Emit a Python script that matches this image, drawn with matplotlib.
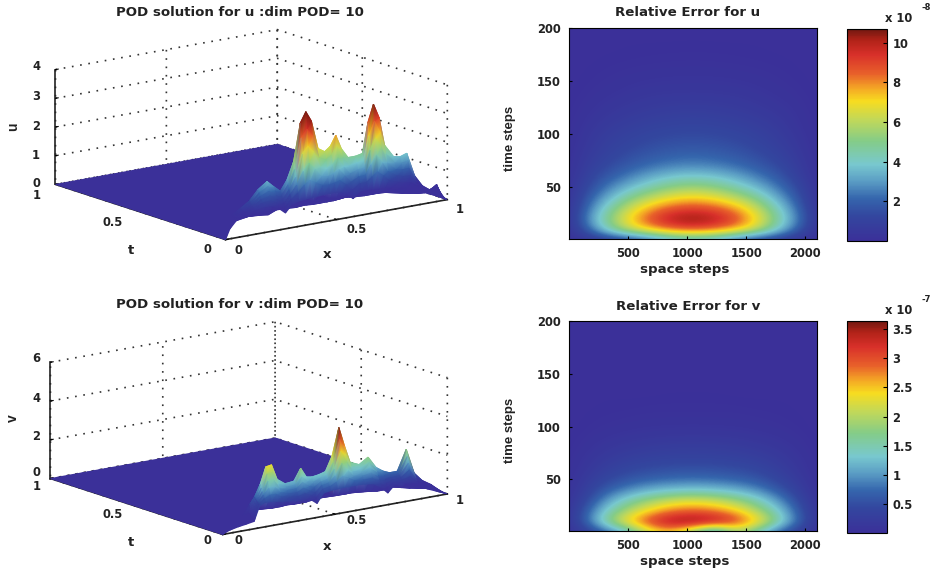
import matplotlib
matplotlib.use("Agg")
import numpy as np
import matplotlib.pyplot as plt
import matplotlib.tri as mtri
from matplotlib.colors import LinearSegmentedColormap, Normalize
from mpl_toolkits.mplot3d import proj3d

plt.rcParams['font.family'] = ['DejaVu Sans']
plt.rcParams['font.weight'] = 'bold'
plt.rcParams['font.size'] = 8.3
plt.rcParams['text.color'] = '#222222'
plt.rcParams['xtick.labelcolor'] = '#222222'
plt.rcParams['ytick.labelcolor'] = '#222222'

# surface rows
t_rows = [0.0, 0.006, 0.012, 0.018, 0.024, 0.03, 0.06, 0.1, 0.2, 1.0]

u_x = [0, .02, .05, .09, .13, .17, .21, .24, .27, .30, .33, .36, .385, .41, .44, .47, .495,
       .52, .545, .575, .61, .64, .665, .69, .715, .74, .78, .81, .84, .875, .91, .945, .975, 1]
u_z = [
    [0, .35, .6, .75, .85, .9, .88, .75, .55, .8, .88, .9, .92, .93, .95, .95, .95,
     .93, .85, .62, .85, .85, .83, .8, .78, .74, .68, .6, .54, .45, .35, .22, .1, 0],
    [0, .36, .62, .78, .9, 1.01, 1.04, .89, .69, .96, 1.14, 1.38, 1.51, 1.4, 1.26, 1.23, 1.26,
     1.31, 1.15, .9, 1.08, 1.09, 1.24, 1.38, 1.22, 1.03, .89, .82, .79, .55, .39, .25, .18, 0],
    [0, .37, .64, .81, .95, 1.12, 1.2, 1.03, .83, 1.12, 1.41, 1.86, 2.1, 1.88, 1.57, 1.51, 1.57,
     1.7, 1.45, 1.17, 1.31, 1.33, 1.66, 1.96, 1.67, 1.32, 1.11, 1.04, 1.04, .65, .43, .27, .26, 0],
    [0, .38, .66, .84, 1.0, 1.23, 1.35, 1.17, .97, 1.28, 1.67, 2.45, 2.68, 2.45, 1.88, 1.79, 1.88,
     2.08, 1.75, 1.45, 1.54, 1.57, 2.15, 2.54, 2.2, 1.62, 1.32, 1.26, 1.28, .75, .47, .3, .34, 0],
    [0, .39, .68, .87, 1.05, 1.34, 1.51, 1.31, 1.11, 1.44, 1.94, 3.0, 3.27, 3.0, 2.19, 2.07, 2.19,
     2.47, 2.05, 1.72, 1.77, 1.81, 2.65, 3.12, 2.7, 1.91, 1.54, 1.48, 1.53, .85, .51, .32, .42, 0],
    [0, .4, .7, .9, 1.1, 1.45, 1.67, 1.45, 1.25, 1.6, 2.2, 3.5, 3.86, 3.5, 2.5, 2.35, 2.5,
     2.85, 2.35, 2.0, 2.0, 2.05, 3.1, 3.7, 3.2, 2.2, 1.75, 1.7, 1.78, .95, .55, .35, .5, 0],
    [0, .25, .45, .55, .7, .9, 1.0, .9, .8, 1.0, 1.4, 2.0, 2.4, 2.0, 1.5, 1.4, 1.5,
     1.7, 1.4, 1.2, 1.2, 1.2, 1.7, 2.2, 1.8, 1.3, 1.1, 1.0, 1.1, .6, .35, .2, .3, 0],
    [0, .1, .2, .25, .3, .35, .4, .35, .3, .4, .5, .7, .9, .7, .6, .5, .6,
     .6, .5, .45, .45, .45, .6, .8, .7, .5, .4, .4, .4, .2, .15, .1, .1, 0],
    [0, .02, .04, .05, .06, .07, .08, .07, .06, .08, .1, .1, .12, .1, .1, .08, .1,
     .1, .08, .08, .08, .08, .1, .12, .1, .08, .06, .06, .06, .04, .03, .02, .02, 0],
    [0] * 34,
]

v_x = [0, .03, .07, .10, .14, .165, .19, .215, .24, .265, .3, .34, .37, .395, .42, .45,
       .48, .51, .54, .565, .59, .63, .67, .705, .735, .765, .8, .84, .875, .91, .95, 1]
v_z = [
    [0, .15, .25, .3, .38, 1.15, 1.25, 1.25, 1.2, 1.15, 1.1, 1.05, 1.02, .95, .72, 1.2,
     1.25, 1.28, 1.3, 1.3, 1.3, 1.28, 1.22, .95, .6, .95, 1.0, .85, .65, .45, .25, 0],
    [0, .16, .27, .33, .44, 1.22, 1.42, 1.55, 1.55, 1.36, 1.26, 1.23, 1.3, 1.17, .98, 1.37,
     1.43, 1.6, 1.86, 1.7, 1.52, 1.46, 1.48, 1.14, .81, 1.06, 1.1, 1.2, .77, .52, .3, 0],
    [0, .17, .29, .36, .51, 1.29, 1.59, 1.9, 1.9, 1.57, 1.42, 1.41, 1.57, 1.39, 1.23, 1.54,
     1.61, 1.92, 2.5, 2.1, 1.74, 1.65, 1.73, 1.33, 1.02, 1.17, 1.2, 1.53, .89, .59, .35, 0],
    [0, .18, .31, .39, .57, 1.36, 1.76, 2.25, 2.25, 1.78, 1.58, 1.59, 1.85, 1.61, 1.49, 1.71,
     1.79, 2.25, 3.1, 2.5, 1.96, 1.83, 1.99, 1.52, 1.23, 1.28, 1.3, 1.87, 1.01, .66, .4, 0],
    [0, .19, .33, .42, .64, 1.43, 1.93, 2.6, 2.6, 1.99, 1.74, 1.77, 2.12, 1.83, 1.74, 1.88,
     1.97, 2.56, 3.7, 2.9, 2.18, 2.02, 2.24, 1.71, 1.44, 1.39, 1.4, 2.2, 1.13, .73, .45, 0],
    [0, .2, .35, .45, .7, 1.5, 2.1, 2.95, 3.0, 2.2, 1.9, 1.95, 2.55, 2.05, 2.0, 2.05,
     2.15, 2.9, 4.3, 3.3, 2.4, 2.2, 2.5, 1.9, 1.65, 1.5, 1.5, 2.55, 1.25, .8, .5, 0],
    [0, .12, .2, .28, .45, 1.0, 1.4, 1.7, 1.8, 1.5, 1.3, 1.3, 1.6, 1.4, 1.3, 1.4,
     1.5, 1.7, 2.8, 2.0, 1.6, 1.5, 1.7, 1.3, 1.1, 1.0, 1.0, 1.5, .8, .5, .3, 0],
    [0, .05, .08, .1, .15, .3, .45, .55, .6, .5, .45, .45, .5, .45, .45, .45,
     .5, .55, .8, .6, .5, .5, .55, .45, .4, .35, .35, .5, .3, .2, .1, 0],
    [0, .01, .02, .02, .03, .05, .07, .08, .09, .08, .07, .07, .08, .07, .07, .07,
     .08, .08, .1, .08, .08, .08, .08, .07, .06, .05, .05, .07, .05, .03, .02, 0],
    [0] * 32,
]

# relative error tables, one row per 10 time steps
space_steps = [0, 175, 350, 525, 700, 875, 1050, 1225, 1400, 1575, 1750, 1925, 2100]
time_steps = list(range(0, 201, 10))

err_u = [
    [.1, .3, .7, 1.0, 1.8, 3.0, 3.2, 3.0, 1.8, 1.0, .7, .3, .1],
    [.2, 2.2, 4.6, 6.4, 7.6, 8.4, 8.7, 8.4, 7.7, 6.4, 4.3, 2.1, .2],
    [.25, 2.9, 5.3, 7.3, 9.0, 10.2, 10.7, 10.2, 9.1, 7.3, 5.0, 2.7, .3],
    [.25, 2.4, 4.6, 6.4, 7.8, 8.7, 9.0, 8.7, 7.9, 6.4, 4.4, 2.3, .25],
    [.2, 1.9, 3.5, 5.0, 6.1, 6.9, 7.2, 6.9, 6.1, 5.0, 3.4, 1.8, .2],
    [.2, 1.4, 2.6, 3.6, 4.5, 5.2, 5.5, 5.2, 4.5, 3.6, 2.5, 1.4, .2],
    [.15, 1.1, 1.9, 2.6, 3.3, 3.8, 4.0, 3.8, 3.3, 2.6, 1.9, 1.0, .15],
    [.12, .85, 1.4, 1.9, 2.3, 2.6, 2.7, 2.6, 2.3, 1.9, 1.4, .8, .12],
    [.1, .7, 1.1, 1.5, 1.8, 2.0, 2.1, 2.0, 1.8, 1.5, 1.1, .65, .1],
    [.08, .55, .95, 1.2, 1.45, 1.6, 1.65, 1.6, 1.45, 1.2, .9, .5, .08],
    [.07, .45, .8, 1.0, 1.2, 1.3, 1.35, 1.3, 1.2, 1.0, .75, .4, .07],
    [.05, .35, .6, .8, .95, 1.05, 1.1, 1.05, .95, .8, .6, .3, .05],
    [.04, .25, .45, .6, .72, .8, .85, .8, .72, .6, .45, .25, .04],
    [.03, .18, .32, .45, .55, .6, .62, .6, .55, .45, .32, .18, .03],
    [.02, .12, .22, .32, .4, .43, .45, .43, .4, .32, .22, .12, .02],
    [.01, .08, .15, .22, .27, .3, .3, .3, .27, .22, .15, .08, .01],
    [.01, .05, .1, .14, .17, .19, .2, .19, .17, .14, .1, .05, .01],
    [0, .03, .06, .08, .1, .11, .12, .11, .1, .08, .06, .03, 0],
    [0, .02, .03, .05, .06, .07, .07, .07, .06, .05, .03, .02, 0],
    [0, .01, .02, .03, .03, .03, .04, .03, .03, .03, .02, .01, 0],
    [0] * 13,
]

err_v = [
    [.05, .3, .7, 1.3, 2.2, 2.4, 1.6, .6, 1.8, 1.5, .7, .3, .05],
    [.08, .85, 1.85, 2.6, 3.2, 3.6, 3.7, 3.6, 3.2, 2.6, 1.75, .8, .08],
    [.07, .75, 1.5, 2.05, 2.5, 2.8, 2.9, 2.8, 2.55, 2.05, 1.45, .7, .07],
    [.06, .5, 1.1, 1.55, 1.9, 2.15, 2.25, 2.15, 1.9, 1.55, 1.05, .5, .06],
    [.04, .35, .7, .95, 1.15, 1.25, 1.3, 1.25, 1.15, .95, .65, .33, .04],
    [.03, .25, .45, .6, .7, .75, .78, .75, .7, .6, .42, .23, .03],
    [.02, .17, .32, .42, .48, .52, .53, .52, .48, .42, .3, .16, .02],
    [.02, .12, .22, .3, .34, .36, .37, .36, .34, .3, .22, .12, .02],
    [.01, .08, .15, .2, .24, .26, .27, .26, .24, .2, .15, .08, .01],
    [.01, .05, .09, .12, .15, .16, .17, .16, .15, .12, .09, .05, .01],
    [0, .03, .05, .07, .08, .09, .09, .09, .08, .07, .05, .03, 0],
    [0, .02, .03, .04, .05, .05, .05, .05, .05, .04, .03, .02, 0],
    [0, .01, .02, .02, .03, .03, .03, .03, .03, .02, .02, .01, 0],
    [0, .01, .01, .01, .01, .02, .02, .02, .01, .01, .01, .01, 0],
    [0] * 13, [0] * 13, [0] * 13, [0] * 13, [0] * 13, [0] * 13, [0] * 13,
]

# colours sampled from the colorbars
cmap_stops = [(0.0, '#3b3099'), (0.12, '#33479f'), (0.2, '#3566ad'), (0.28, '#5a9cc4'),
              (0.36, '#78c8cf'), (0.47, '#84cc88'), (0.57, '#c0d85a'), (0.66, '#f7dc20'),
              (0.72, '#f4a825'), (0.79, '#e8602a'), (0.88, '#d8302a'), (0.95, '#b02218'),
              (1.0, '#701810')]
faded_jet = LinearSegmentedColormap.from_list('faded_jet', cmap_stops)

W, H = 938, 573
fig = plt.figure(figsize=(W / 100, H / 100), dpi=100)


def px_axes(left, top, right, bottom, **kw):
    return fig.add_axes([left / W, 1 - bottom / H, (right - left) / W, (bottom - top) / H], **kw)


def px_text(x, y, s, **kw):
    kw.setdefault('ha', 'center')
    kw.setdefault('va', 'center')
    fig.text(x / W, 1 - y / H, s, **kw)


def setup_3d(cx, cy, zoom, zmax, zticks):
    size = 400
    ax = px_axes(cx - size / 2, cy - size / 2, cx + size / 2, cy + size / 2, projection='3d')
    ax.patch.set_visible(False)
    ax.set_proj_type('ortho')
    ax.view_init(elev=14, azim=-126.7)
    ax.set_box_aspect((277, 285, 118.5), zoom=zoom)
    ax.set_xlim(0, 1)
    ax.set_ylim(0, 1)
    ax.set_zlim(0, zmax)
    ax.set_xticks([0, 0.5, 1], ['', '', ''])
    ax.set_yticks([0, 0.5, 1], ['', '', ''])
    ax.set_zticks(zticks, ['' for z in zticks])
    for axis in (ax.xaxis, ax.yaxis, ax.zaxis):
        axis.set_pane_color((1, 1, 1, 0))
        axis.pane.set_edgecolor('none')
        axis.line.set_color('#222222')
        axis.line.set_linewidth(1.2)
        axis._axinfo['grid'].update(color='#333333', linestyle=(0, (1, 4)), linewidth=1.2)
        axis._axinfo['tick'].update(inward_factor=0.0, outward_factor=0.15)
    return ax


def label_3d(zpairs, t_ys, x_ys, zname, name_ys):
    # tick and axis names sit where the MATLAB figure has them
    for y, s in zpairs:
        px_text(36, y, s)
    for x, y, s in zip([37, 113, 207], t_ys, ['1', '0.5', '0']):
        px_text(x, y, s)
    for x, y, s in zip([238, 357, 460], x_ys, ['0', '0.5', '1']):
        px_text(x, y, s)
    px_text(13, name_ys[0], zname, family='Liberation Sans', fontsize=10, rotation=90)
    px_text(131, name_ys[1], 't', fontsize=9.5)
    px_text(327, name_ys[2], 'x', fontsize=9.5)


def draw_surface(overlay, ax, xs, ts, zs, vmin, vmax):
    # smooth shading like MATLAB's "shading interp": project the grid, then gouraud triangles
    X, T = np.meshgrid(xs, ts)
    Z = np.array(zs, dtype=float)
    px, py, _ = proj3d.proj_transform(X.ravel(), T.ravel(), Z.ravel(), ax.get_proj())
    disp = ax.transData.transform(np.column_stack([px, py]))
    nr, nc = Z.shape
    tris = []
    # far rows and far columns first so nearer triangles paint over them
    for i in range(nr - 2, -1, -1):
        for j in range(nc - 2, -1, -1):
            a = i * nc + j
            b = a + 1
            c = a + nc
            d = c + 1
            tris.append([a, b, d])
            tris.append([a, d, c])
    tri = mtri.Triangulation(disp[:, 0], disp[:, 1], tris)
    overlay.tripcolor(tri, Z.ravel(), shading='gouraud', cmap=faded_jet,
                      norm=Normalize(vmin, vmax))


def draw_error(box, cbox, table, vmax, cticks, clabels, title, exp, exp_y, title_y, lab_y, ylab_y):
    ax = px_axes(*box)
    xs = space_steps
    ts = time_steps
    dx = (xs[1] - xs[0]) / 2
    dt = (ts[1] - ts[0]) / 2
    im = ax.imshow(table, origin='lower', aspect='auto', cmap=faded_jet, vmin=0, vmax=vmax,
                   extent=(xs[0] - dx, xs[-1] + dx, ts[0] - dt, ts[-1] + dt),
                   interpolation='bicubic', interpolation_stage='data')
    ax.set_xlim(1, 2100)
    ax.set_ylim(1, 200)
    ax.set_xticks([500, 1000, 1500, 2000])
    ax.set_yticks([50, 100, 150, 200])
    ax.tick_params(direction='in', length=2, pad=6)
    px_text(688, title_y, title, fontsize=9.6)
    px_text(685, lab_y, 'space steps', fontsize=9.6)
    px_text(510, ylab_y, 'time steps', family='Liberation Sans', fontsize=9.5, rotation=90)
    cax = px_axes(*cbox)
    cb = fig.colorbar(im, cax=cax)
    cb.set_ticks(cticks, labels=clabels)
    cb.ax.tick_params(direction='in', length=3, pad=4)
    px_text(885, exp_y, 'x 10', ha='left')
    px_text(921, exp_y - 11, exp, ha='left', fontsize=6)


ax_u = setup_3d(246, 140, 1.005, 4, [0, 1, 2, 3, 4])
ax_v = setup_3d(243.5, 433.5, 1.018, 6, [0, 2, 4, 6])
px_text(240, 12, 'POD solution for u :dim POD= 10', fontsize=9.6)
px_text(240, 304, 'POD solution for v :dim POD= 10', fontsize=9.6)
label_3d([(66, '4'), (96, '3'), (126, '2'), (155, '1'), (183, '0')],
         [195, 222, 249], [250, 230, 209], 'u', (127, 250, 255))
label_3d([(358, '6'), (398, '4'), (437, '2'), (473, '0')],
         [487, 514, 541], [541, 521, 500], 'v', (418, 542, 547))

draw_error((569, 28, 817, 239), (847, 29, 887, 241), err_u, 10.7,
           [2, 4, 6, 8, 10], ['2', '4', '6', '8', '10'], 'Relative Error for u', '-8', 19,
           13, 269, 138)
draw_error((569, 321, 817, 531), (847, 321, 887, 533), err_v, 3.64,
           [0.5, 1, 1.5, 2, 2.5, 3, 3.5], ['0.5', '1', '1.5', '2', '2.5', '3', '3.5'],
           'Relative Error for v', '-7', 310, 306, 561, 430)

fig.canvas.draw()

# surfaces go on a transparent pixel-space overlay, above the 3D grid
overlay = fig.add_axes([0, 0, 1, 1], facecolor='none')
draw_surface(overlay, ax_u, u_x, t_rows, u_z, 0.75, 3.6)
draw_surface(overlay, ax_v, v_x, t_rows, v_z, 0.85, 4.2)
overlay.set_xlim(0, W)
overlay.set_ylim(0, H)
overlay.axis('off')

fig.savefig('out.png', dpi=100)
